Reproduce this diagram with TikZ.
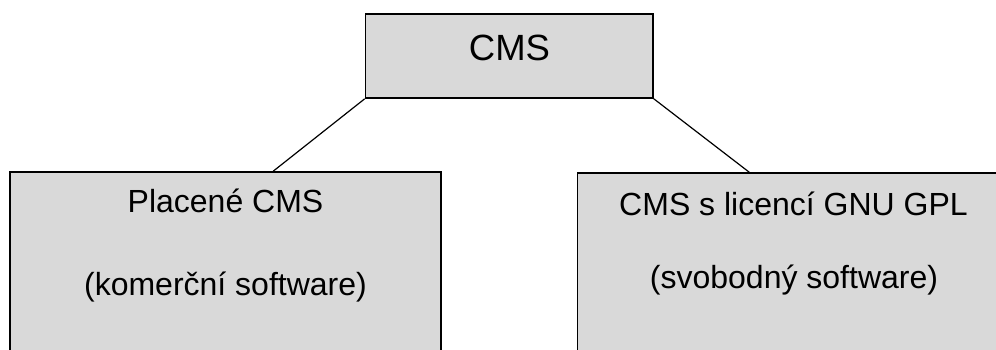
\documentclass[tikz,border=0pt]{standalone}
\usepackage{fontspec}
\setmainfont{Liberation Sans}
\definecolor{boxgray}{HTML}{D9D9D9}
\tikzset{
  box/.style={draw=black, fill=boxgray, line width=1.6pt, rectangle, inner sep=0pt},
  link/.style={draw=black, line width=1.2pt},
  bigtext/.style={font=\fontsize{36.5}{40}\selectfont, anchor=base, inner sep=0pt},
  boxtext/.style={font=\fontsize{32}{36}\selectfont, anchor=base, inner sep=0pt}
}
\begin{document}
\begin{tikzpicture}[x=1pt, y=-1pt]
  % page area; the two lower boxes run past its right and bottom edges
  \clip (0,0) rectangle (996,349);
  \fill[white] (0,0) rectangle (996,349);

  % box outlines first, then the connectors, then the boxes again on top
  \node[box, minimum width=287.5pt, minimum height=84pt] (top) at (509.25,56) {};
  \node[box, minimum width=431pt, minimum height=260pt] (left) at (225.5,302) {};
  \node[box, minimum width=432.5pt, minimum height=260pt] (right) at (793.75,303) {};
  \coordinate (lend) at ([xshift=264pt]left.north west);
  \coordinate (rend) at ([xshift=172.5pt]right.north west);
  \draw[link] (top.south west) -- (lend);
  \draw[link] (top.south east) -- (rend);
  \node[box, minimum width=287.5pt, minimum height=84pt] at (top) {};
  \node[box, minimum width=431pt, minimum height=260pt] at (left) {};
  \node[box, minimum width=432.5pt, minimum height=260pt] at (right) {};

  % labels
  \node[bigtext] (t0) at (509.5,60.5) {CMS};
  \node[boxtext] (l1) at (225.5,212) {Placené CMS};
  \node[boxtext] (l2) at (225.5,295.5) {(komerční software)};
  \node[boxtext] (r1) at (793.5,215) {CMS s licencí GNU GPL};
  \node[boxtext] (r2) at (794,288.5) {(svobodný software)};
\end{tikzpicture}
\end{document}
